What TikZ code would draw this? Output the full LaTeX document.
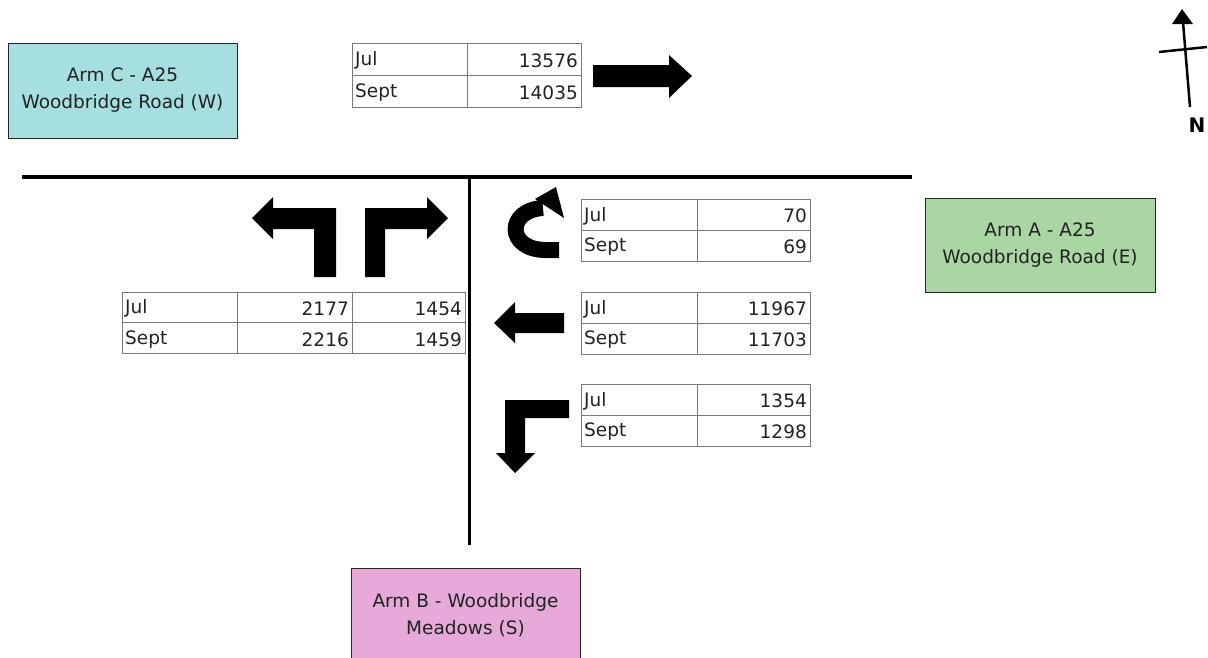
\documentclass[tikz,border=0pt]{standalone}
\usepackage{fontspec}
\setmainfont{DejaVu Sans}
\definecolor{armCfill}{HTML}{A6DFE0}
\definecolor{armAfill}{HTML}{A9D6A2}
\definecolor{armBfill}{HTML}{E6A9D8}
\definecolor{txt}{HTML}{222222}
\definecolor{gridc}{HTML}{7A7A7A}
\begin{document}
\begin{tikzpicture}[x=1pt,y=-1pt,
  arm/.style={draw=black!85, line width=1pt, text=txt, align=center,
    font=\fontsize{18.5}{27}\selectfont, inner sep=0},
  tgrid/.style={draw=gridc, line width=0.9pt},
  tl/.style={font=\fontsize{18.5}{20}\selectfont, inner sep=0, text=txt, anchor=west, yshift=-1.5pt},
  tr/.style={font=\fontsize{18.5}{20}\selectfont, inner sep=0, text=txt, anchor=east, yshift=-1.5pt},
  blk/.style={fill=black, draw=none},
  road/.style={draw=black, line width=4pt},
]
\useasboundingbox (0,0) rectangle (1208,657);
% roads
\coordinate (rw) at (22,177);
\coordinate (re) at (912,177);
\coordinate (rj) at (469,177);
\coordinate (rs) at (469,545);
\draw[road] (rw) -- (re);
\draw[road, line width=3pt] (rj) -- (rs);
% arm boxes
\node[arm, fill=armCfill, minimum width=229, minimum height=95] (armC) at (122.5,90.5) {Arm C - A25\\Woodbridge Road (W)};
\node[arm, fill=armAfill, minimum width=230, minimum height=94] (armA) at (1040,245) {Arm A - A25\\Woodbridge Road (E)};
\node[arm, fill=armBfill, minimum width=229, minimum height=94] (armB) at (465.5,615) {Arm B - Woodbridge\\Meadows (S)};
% top table
\draw[tgrid] (352,43) rectangle (581,107) (352,75) -- (581,75) (467,43) -- (467,107);
\node[tl] (t1a) at (355,59) {Jul};
\node[tr] (t1b) at (578,59) {13576};
\node[tl] (t1c) at (355,91) {Sept};
\node[tr] (t1d) at (578,91) {14035};
% left table
\draw[tgrid] (122,292) rectangle (465,353) (122,322.5) -- (465,322.5) (237,292) -- (237,353) (352,292) -- (352,353);
\node[tl] (t2a) at (125,307) {Jul};
\node[tr] (t2b) at (349,307) {2177};
\node[tr] (t2c) at (462,307) {1454};
\node[tl] (t2d) at (125,338) {Sept};
\node[tr] (t2e) at (349,338) {2216};
\node[tr] (t2f) at (462,338) {1459};
% right tables
\draw[tgrid] (581,199) rectangle (810,261) (581,230) -- (810,230) (697,199) -- (697,261);
\node[tl] (t3a) at (584,214.5) {Jul};
\node[tr] (t3b) at (807,214.5) {70};
\node[tl] (t3c) at (584,245.5) {Sept};
\node[tr] (t3d) at (807,245.5) {69};
\draw[tgrid] (581,292) rectangle (810,354) (581,323) -- (810,323) (697,292) -- (697,354);
\node[tl] (t4a) at (584,307.5) {Jul};
\node[tr] (t4b) at (807,307.5) {11967};
\node[tl] (t4c) at (584,338.5) {Sept};
\node[tr] (t4d) at (807,338.5) {11703};
\draw[tgrid] (581,384) rectangle (810,446) (581,415) -- (810,415) (697,384) -- (697,446);
\node[tl] (t5a) at (584,399.5) {Jul};
\node[tr] (t5b) at (807,399.5) {1354};
\node[tl] (t5c) at (584,430.5) {Sept};
\node[tr] (t5d) at (807,430.5) {1298};
% arrows
\fill[blk] (593,65) -- (669,65) -- (669,55) -- (692,76) -- (669,98) -- (669,87) -- (593,87) -- cycle;
\fill[blk] (336,277) -- (336,208) -- (273,208) -- (273,197) -- (252,218) -- (273,239) -- (273,229) -- (314,229) -- (314,277) -- cycle;
\fill[blk] (365,277) -- (365,208) -- (427,208) -- (427,197) -- (448,218) -- (427,239) -- (427,229) -- (385,229) -- (385,277) -- cycle;
\fill[blk] (564,313) -- (515,313) -- (515,302) -- (494,323) -- (515,343) -- (515,333) -- (564,333) -- cycle;
\fill[blk] (569,400) -- (505,400) -- (505,453) -- (496,453) -- (515,473) -- (535,453) -- (525,453) -- (525,418) -- (569,418) -- cycle;
% U-turn
\draw[line width=16pt] (559,250) -- (546,250) .. controls (506,250) and (506,210) .. (543,208);
\fill[blk] (535,199) -- (556,187) -- (564,218) -- cycle;
% north arrow
\coordinate (ns) at (1190,107);
\coordinate (nn) at (1183,22);
\draw[line width=2.5pt] (ns) -- (nn);
\fill[blk] (1182,9) -- (1193,24) -- (1172,24) -- cycle;
\coordinate (cw) at (1159,52);
\coordinate (ce) at (1207,47);
\draw[line width=2.5pt] (cw) -- (ce);
\node[font=\bfseries\fontsize{20}{22}\selectfont, inner sep=0] (north) at (1197,125) {N};
\end{tikzpicture}
\end{document}
